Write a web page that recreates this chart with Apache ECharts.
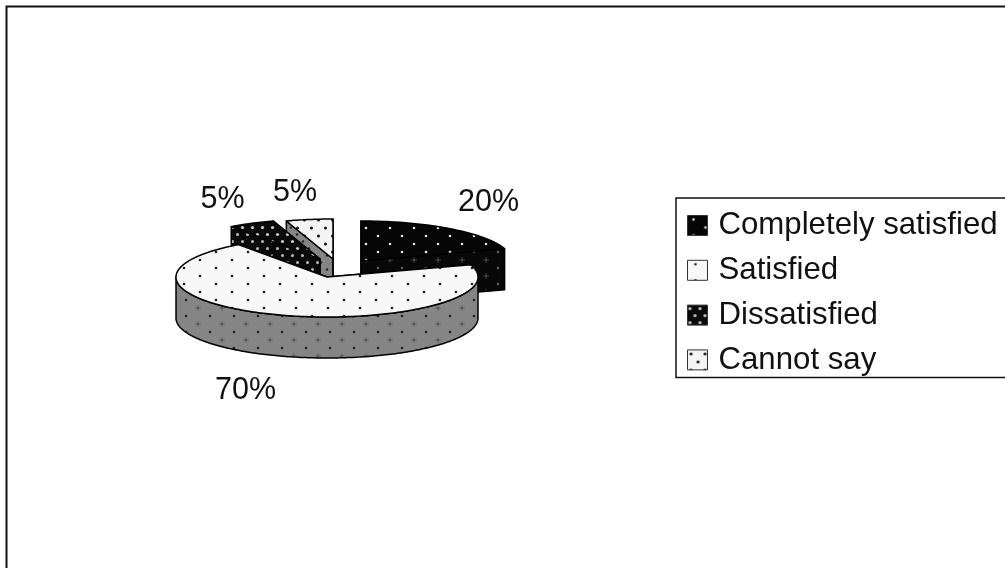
<!DOCTYPE html>
<html><head><meta charset="utf-8">
<style>html,body{margin:0;padding:0;background:#fff;overflow:hidden}#c{width:1005px;height:568px;filter:blur(0.45px)}</style>
<script src="https://cdn.jsdelivr.net/npm/echarts@6/dist/echarts.min.js"></script>
</head><body><div id="c"></div>
<script>
const categories = ['Completely satisfied', 'Satisfied', 'Dissatisfied', 'Cannot say'];
const values = [20, 70, 5, 5];

// layout only
const CX = 327, CY = 277, RX = 151, RY = 40, DEPTH = 41;
const explode = [[34, -16], [0, 0], [-7, -18], [6, -18]];
const labelAt = [[488.5, 203], [245.5, 390.5], [222.5, 200], [295, 193]];
const stacking = [3, 4, 2, 1];
const FONT = '"Liberation Sans", Arial, sans-serif';

function pattern(bg, dot, w, h, r, faint) {
  const c = document.createElement('canvas');
  c.width = w; c.height = h;
  const g = c.getContext('2d');
  g.fillStyle = bg; g.fillRect(0, 0, w, h);
  g.fillStyle = dot;
  [[w / 4, h / 4], [3 * w / 4, 3 * h / 4]].forEach(p => {
    g.beginPath(); g.arc(p[0], p[1], r, 0, 7); g.fill();
  });
  if (faint) {
    g.fillStyle = faint;
    g.fillRect(w / 4 - 3, h / 4 - .5, 6, 1);
    g.fillRect(w / 4 - .5, h / 4 - 3, 1, 6);
  }
  return { image: c, repeat: 'repeat' };
}
const tops = [
  pattern('#060606', '#e4e4e4', 24, 16, 1.3),
  pattern('#f7f7f7', '#222', 32, 16, 1.3),
  pattern('#0a0a0a', '#ccc', 10, 14, 1.6),
  pattern('#f4f4f4', '#111', 14, 16, 1.5)
];
const walls = [
  pattern('#080808', '#666', 24, 16, 1.2, '#3a3a3a'),
  pattern('#858585', '#222', 24, 16, 1.3, '#6a6a6a'),
  pattern('#0a0a0a', '#bbb', 10, 14, 1.5),
  pattern('#858585', '#222', 12, 14, 1.2)
];

const total = values.reduce((a, b) => a + b, 0);
const startAngle = i => 90 - values.slice(0, i).reduce((a, b) => a + b, 0) / total * 360;

function slice(i) {
  return function (params, api) {
    const v = api.value(0);
    const a0 = startAngle(i), a1 = a0 - v / total * 360;
    const ax = CX + explode[i][0], ay = CY + explode[i][1];
    const pt = (deg, dy) => [ax + RX * Math.cos(deg * Math.PI / 180), ay - RY * Math.sin(deg * Math.PI / 180) + (dy || 0)];
    const line = { stroke: '#000', lineWidth: 1.5, lineJoin: 'round' };
    const children = [];
    const poly = (points, fill) => children.push({ type: 'polygon', shape: { points }, style: Object.assign({ fill }, line) });
    // radial walls
    [a0, a1].forEach(a => poly([[ax, ay], pt(a), pt(a, DEPTH), [ax, ay + DEPTH]], walls[i]));
    // outer front wall
    const front = [];
    for (let d = a0; d >= a1; d -= 1) if (Math.sin(d * Math.PI / 180) <= 0) front.push(d);
    if (front.length > 1) {
      poly(front.map(d => pt(d)).concat(front.slice().reverse().map(d => pt(d, DEPTH))), walls[i]);
    }
    // top face
    const top = [[ax, ay]];
    for (let d = a0; d > a1; d -= 1) top.push(pt(d));
    top.push(pt(a1));
    poly(top, tops[i]);
    children.push({
      type: 'text',
      style: { x: labelAt[i][0], y: labelAt[i][1], text: Math.round(v / total * 100) + '%', fill: '#111', font: '30.5px ' + FONT, align: 'center', verticalAlign: 'middle' }
    });
    return { type: 'group', children };
  };
}

const chart = echarts.init(document.getElementById('c'), null, { renderer: 'canvas' });
chart.setOption({
  animation: false,
  backgroundColor: '#fff',
  legend: {
    orient: 'vertical', left: 676, top: 198,
    data: categories.map((name, i) => ({ name, icon: 'rect', itemStyle: { color: tops[i], borderColor: '#333', borderWidth: 1 } })),
    itemWidth: 20, itemHeight: 20, itemGap: 13.8,
    padding: [12, 12, 2, 11],
    backgroundColor: '#fff', borderColor: '#111', borderWidth: 1.5, borderRadius: 0,
    selectedMode: false,
    textStyle: { color: '#111', fontSize: 31.2, fontFamily: FONT, lineHeight: 30, padding: [0, 0, 0, 6] }
  },
  graphic: [
    { type: 'polyline', z: 0, shape: { points: [[6.5, 568], [6.5, 6.5], [1005, 6.5]] }, style: { fill: 'none', stroke: '#111', lineWidth: 2 } }
  ],
  series: categories.map((name, i) => ({
    type: 'custom', name, coordinateSystem: 'none', z: stacking[i],
    itemStyle: { color: tops[i] },
    data: [[values[i]]],
    renderItem: slice(i)
  }))
});
</script></body></html>
